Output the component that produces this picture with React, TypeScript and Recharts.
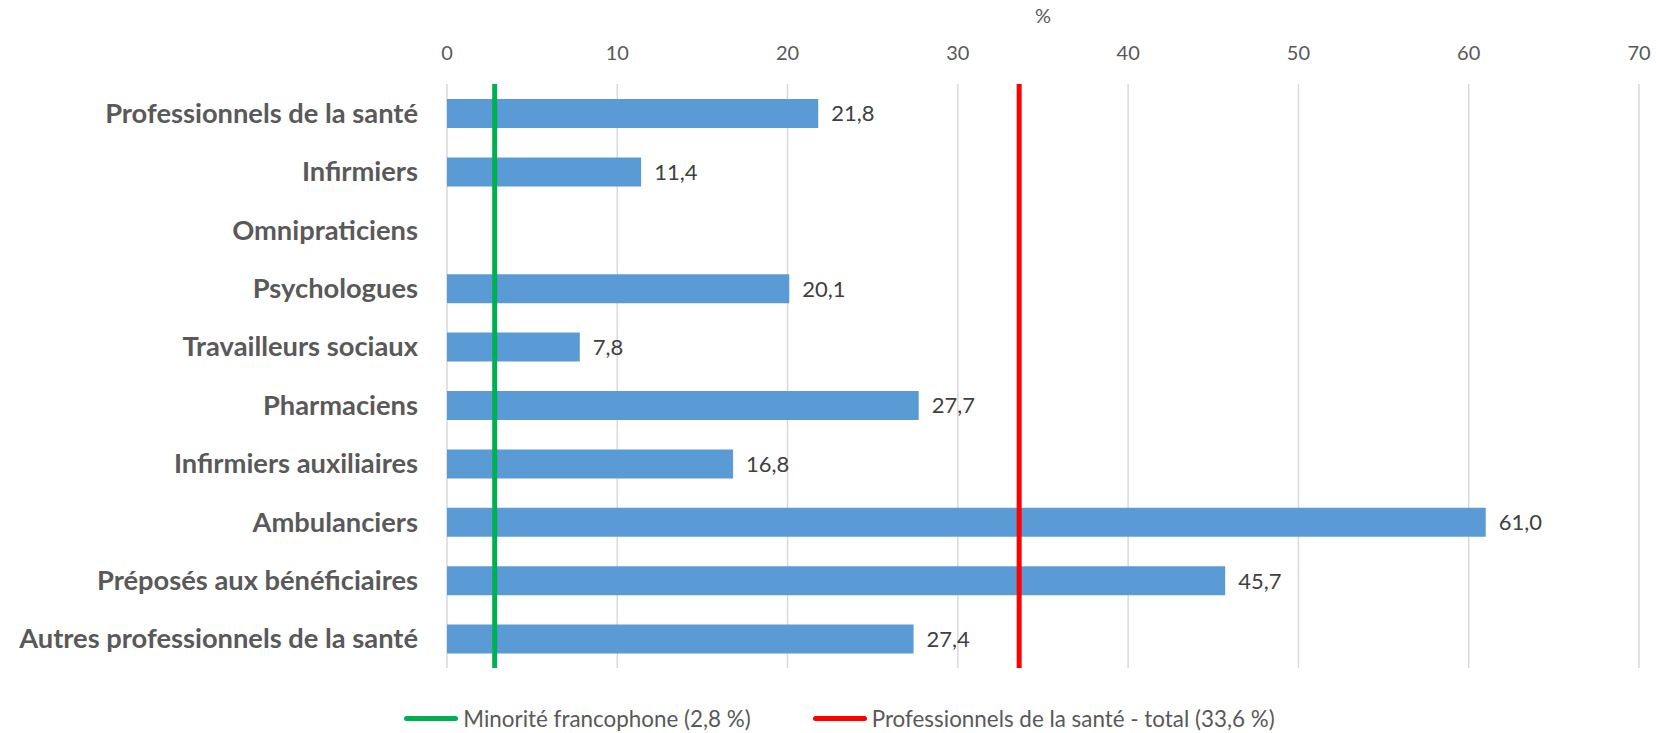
import React from 'react';
import {
  BarChart,
  Bar,
  XAxis,
  YAxis,
  CartesianGrid,
  ReferenceLine,
  LabelList,
  Legend,
} from 'recharts';

const categories = [
  'Professionnels de la santé',
  'Infirmiers',
  'Omnipraticiens',
  'Psychologues',
  'Travailleurs sociaux',
  'Pharmaciens',
  'Infirmiers auxiliaires',
  'Ambulanciers',
  'Préposés aux bénéficiaires',
  'Autres professionnels de la santé',
];

const values: (number | null)[] = [21.8, 11.4, null, 20.1, 7.8, 27.7, 16.8, 61.0, 45.7, 27.4];

const xTicks = [0, 10, 20, 30, 40, 50, 60, 70];

const refNames = ['Minorité francophone (2,8 %)', 'Professionnels de la santé - total (33,6 %)'];
const refValues = [2.8, 33.6];
const refColors = ['#00B050', '#FF0000'];

const data = categories.map((name, i) => ({ name, value: values[i] }));

const fmt = (v: any) => (v == null ? '' : Number(v).toFixed(1).replace('.', ','));

const LegendContent = () => (
  <div
    style={{
      display: 'flex',
      justifyContent: 'center',
      alignItems: 'center',
      height: 30,
      paddingLeft: 40,
      fontSize: 22.4,
      color: '#595959',
    }}
  >
    {refNames.map((n, i) => (
      <div key={n} style={{ display: 'flex', alignItems: 'center', marginRight: i === 0 ? 62 : 0 }}>
        <span
          style={{
            display: 'inline-block',
            width: 54,
            height: 5,
            borderRadius: 3,
            background: refColors[i],
            marginRight: 5,
          }}
        />
        <span>{n}</span>
      </div>
    ))}
  </div>
);

export default function App() {
  return (
    <div style={{ position: 'absolute', left: 0, top: 0, fontFamily: 'Lato, sans-serif', background: '#fff' }}>
      <BarChart
        width={1656}
        height={733}
        data={data}
        layout="vertical"
        margin={{ top: 0, right: 17, left: 0, bottom: 35 }}
        barSize={29}
      >
        <CartesianGrid horizontal={false} stroke="#D9D9D9" strokeWidth={1.5} />
        <XAxis
          type="number"
          orientation="top"
          domain={[0, 70]}
          ticks={xTicks}
          height={84}
          axisLine={false}
          tickLine={false}
          tickSize={0}
          tickMargin={24}
          tick={{ fill: '#595959', fontSize: 20 }}
          label={{ value: '%', position: 'insideTop', offset: 9, fill: '#595959', fontSize: 20 }}
        />
        <YAxis
          type="category"
          dataKey="name"
          width={447}
          axisLine={false}
          tickLine={false}
          tickSize={0}
          tickMargin={29}
          interval={0}
          tick={{ fill: '#595959', fontSize: 27.3, fontWeight: 700 }}
        />
        <Bar dataKey="value" fill="#5B9BD5" isAnimationActive={false}>
          <LabelList dataKey="value" position="right" offset={13} formatter={fmt} fill="#404040" fontSize={22} />
        </Bar>
        {refValues.map((v, i) => (
          <ReferenceLine key={v} x={v} stroke={refColors[i]} strokeWidth={5} />
        ))}
        <Legend verticalAlign="bottom" content={<LegendContent />} wrapperStyle={{ bottom: 0 }} />
      </BarChart>
    </div>
  );
}
